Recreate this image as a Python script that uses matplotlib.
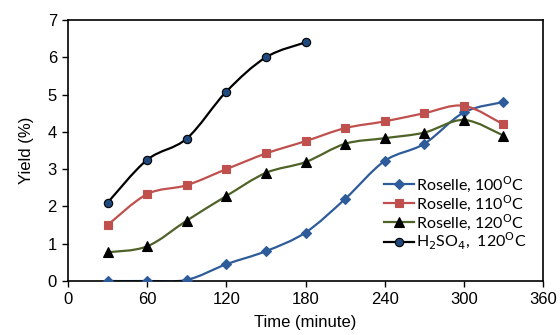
import matplotlib
matplotlib.use("Agg")
import matplotlib.pyplot as plt
import numpy as np
from matplotlib.path import Path
from matplotlib.patches import PathPatch

plt.rcParams["font.family"] = ["Liberation Sans", "DejaVu Sans"]

time = [30, 60, 90, 120, 150, 180, 210, 240, 270, 300, 330]
time_h2so4 = [30, 60, 90, 120, 150, 180]
roselle_100 = [0, 0, 0.03, 0.45, 0.8, 1.3, 2.2, 3.22, 3.68, 4.52, 4.8]
roselle_110 = [1.5, 2.33, 2.57, 3.0, 3.42, 3.75, 4.1, 4.28, 4.5, 4.7, 4.2]
roselle_120 = [0.77, 0.93, 1.62, 2.28, 2.9, 3.19, 3.68, 3.83, 3.98, 4.32, 3.9]
h2so4_120 = [2.1, 3.25, 3.82, 5.08, 6.0, 6.4]

labels = ["Roselle, 100$^{\\mathrm{O}}$C", "Roselle, 110$^{\\mathrm{O}}$C",
          "Roselle, 120$^{\\mathrm{O}}$C", "H$_2$SO$_4$,  120$^{\\mathrm{O}}$C"]


def smooth_path(x, y):
    # Excel-style smoothed line: Bezier segments through the points
    x = np.asarray(x, float); y = np.asarray(y, float)
    px = np.concatenate([[x[0]], x, [x[-1]]]); py = np.concatenate([[y[0]], y, [y[-1]]])
    verts = [(x[0], y[0])]; codes = [Path.MOVETO]
    for i in range(1, len(px) - 2):
        c1 = (px[i] + (px[i + 1] - px[i - 1]) / 6, py[i] + (py[i + 1] - py[i - 1]) / 6)
        c2 = (px[i + 1] - (px[i + 2] - px[i]) / 6, py[i + 1] - (py[i + 2] - py[i]) / 6)
        verts += [c1, c2, (px[i + 1], py[i + 1])]
        codes += [Path.CURVE4] * 3
    return Path(verts, codes)


fig = plt.figure(figsize=(5.6, 3.35), dpi=100)
ax = fig.add_axes([68 / 560, 1 - 281 / 335, 475 / 560, 261 / 335])

series = [
    (time, roselle_100, "#2E5B9A", "D", "#2E5B9A", "#2E5B9A", 5),
    (time, roselle_110, "#C0504D", "s", "#C0504D", "#C0504D", 6),
    (time, roselle_120, "#4F6228", "^", "black", "black", 7),
    (time_h2so4, h2so4_120, "black", "o", "#1F497D", "black", 6),
]
handles = []
for (x, y, lc, m, fc, ec, ms), lab in zip(series, labels):
    ax.add_patch(PathPatch(smooth_path(x, y), facecolor="none", edgecolor=lc, lw=1.6,
                           transform=ax.transData, zorder=2))
    ax.plot(x, y, ls="none", marker=m, ms=ms, mfc=fc, mec=ec, mew=0.8, zorder=3)
    h, = ax.plot([], [], color=lc, lw=1.6, marker=m, ms=ms, mfc=fc, mec=ec, mew=0.8)
    handles.append(h)

ax.set_xlim(0, 360)
ax.set_ylim(0, 7)
ax.set_xticks(range(0, 361, 60))
ax.set_yticks(range(0, 8))
ax.tick_params(direction="out", length=4, width=1, labelsize=12, colors="black", pad=4)
for s in ax.spines.values():
    s.set_linewidth(1.2)
ax.set_xlabel("Time (minute)", fontsize=12, labelpad=6)
ax.set_ylabel("Yield (%)", fontsize=12, labelpad=10)

leg = ax.legend(handles, labels, loc="lower right", bbox_to_anchor=(0.965, 0.11),
                frameon=False, handlelength=1.9, handletextpad=0.1,
                labelspacing=-0.05, borderaxespad=0, borderpad=0,
                prop={"family": ["Lato", "DejaVu Sans"], "size": 11.5})

fig.savefig("out.png", dpi=100)
